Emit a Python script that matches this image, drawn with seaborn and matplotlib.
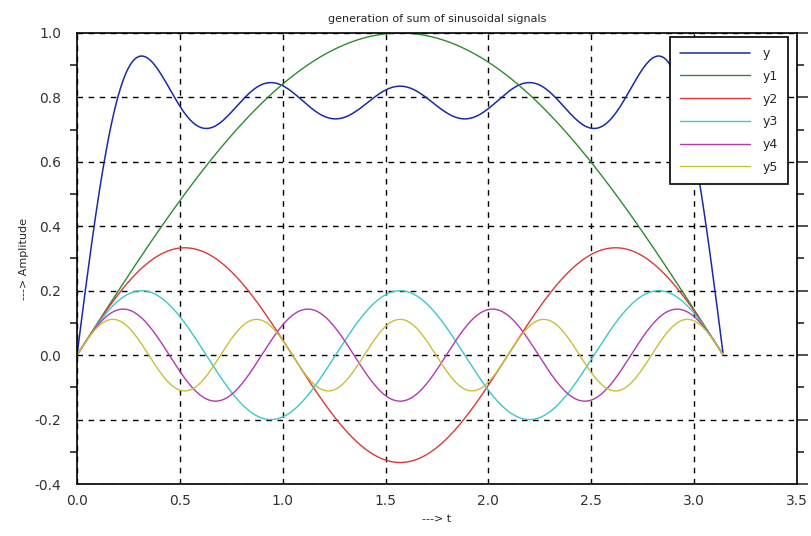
import numpy as np
import pandas as pd
import matplotlib
matplotlib.use("Agg")
import matplotlib.pyplot as plt
import seaborn as sns
from matplotlib.ticker import MultipleLocator

# signal parameters: odd harmonics of a square wave, amplitude 1/n
harmonics = [1, 3, 5, 7, 9]
names = ['y1', 'y2', 'y3', 'y4', 'y5']
colors = ['#2e8b2e', '#d83a3a', '#3cc8c8', '#b03ab0', '#c8c03a']
sum_color = '#1a2aa8'

t = np.arange(0, np.pi, 0.01)
signals = {n: np.sin(h * t) / h for n, h in zip(names, harmonics)}
y = sum(signals.values())

sns.set_style("white")
plt.rcParams['font.family'] = ['DejaVu Sans']

fig = plt.figure(figsize=(8.11, 5.36), dpi=100)
ax = fig.add_axes([77 / 811, 52 / 536, 720 / 811, 451 / 536])

sns.lineplot(x=t, y=y, ax=ax, color=sum_color, lw=1.1, label='y')
for n, c in zip(names, colors):
    sns.lineplot(x=t, y=signals[n], ax=ax, color=c, lw=1.0, label=n)

ax.set_xlim(0, 3.5)
ax.set_ylim(-0.4, 1.0)
ax.xaxis.set_major_locator(MultipleLocator(0.5))
ax.yaxis.set_major_locator(MultipleLocator(0.2))
ax.yaxis.set_minor_locator(MultipleLocator(0.1))
ax.xaxis.set_major_formatter(plt.FormatStrFormatter('%.1f'))
ax.yaxis.set_major_formatter(plt.FormatStrFormatter('%.1f'))
ax.grid(True, which='major', color='black', linestyle=(0, (4, 4)), lw=1.0)
ax.set_axisbelow(True)
ax.tick_params(axis='x', which='major', direction='inout', length=8, width=1.2,
               labelsize=10, colors='#333333', top=False)
ax.tick_params(axis='y', which='major', direction='out', length=8, width=1.2,
               labelsize=10, colors='#333333', right=True)
ax.tick_params(axis='y', which='minor', direction='out', length=5, width=1.2,
               left=True, right=True)
for s in ax.spines.values():
    s.set_color('black')
    s.set_linewidth(1.2)

ax.set_title('generation of sum of sinusoidal signals', fontsize=8, pad=8)
ax.set_xlabel('---> t', fontsize=8)
ax.set_ylabel('---> Amplitude', fontsize=8)

leg = ax.legend(loc='upper right', bbox_to_anchor=(0.9875, 0.991), frameon=True,
                fancybox=False, edgecolor='black', framealpha=1.0, fontsize=9,
                handlelength=5.6, handletextpad=1.0, labelspacing=0.78,
                borderpad=0.8, borderaxespad=0.0)
leg.get_frame().set_linewidth(1.2)

fig.savefig('out.png', dpi=100)
